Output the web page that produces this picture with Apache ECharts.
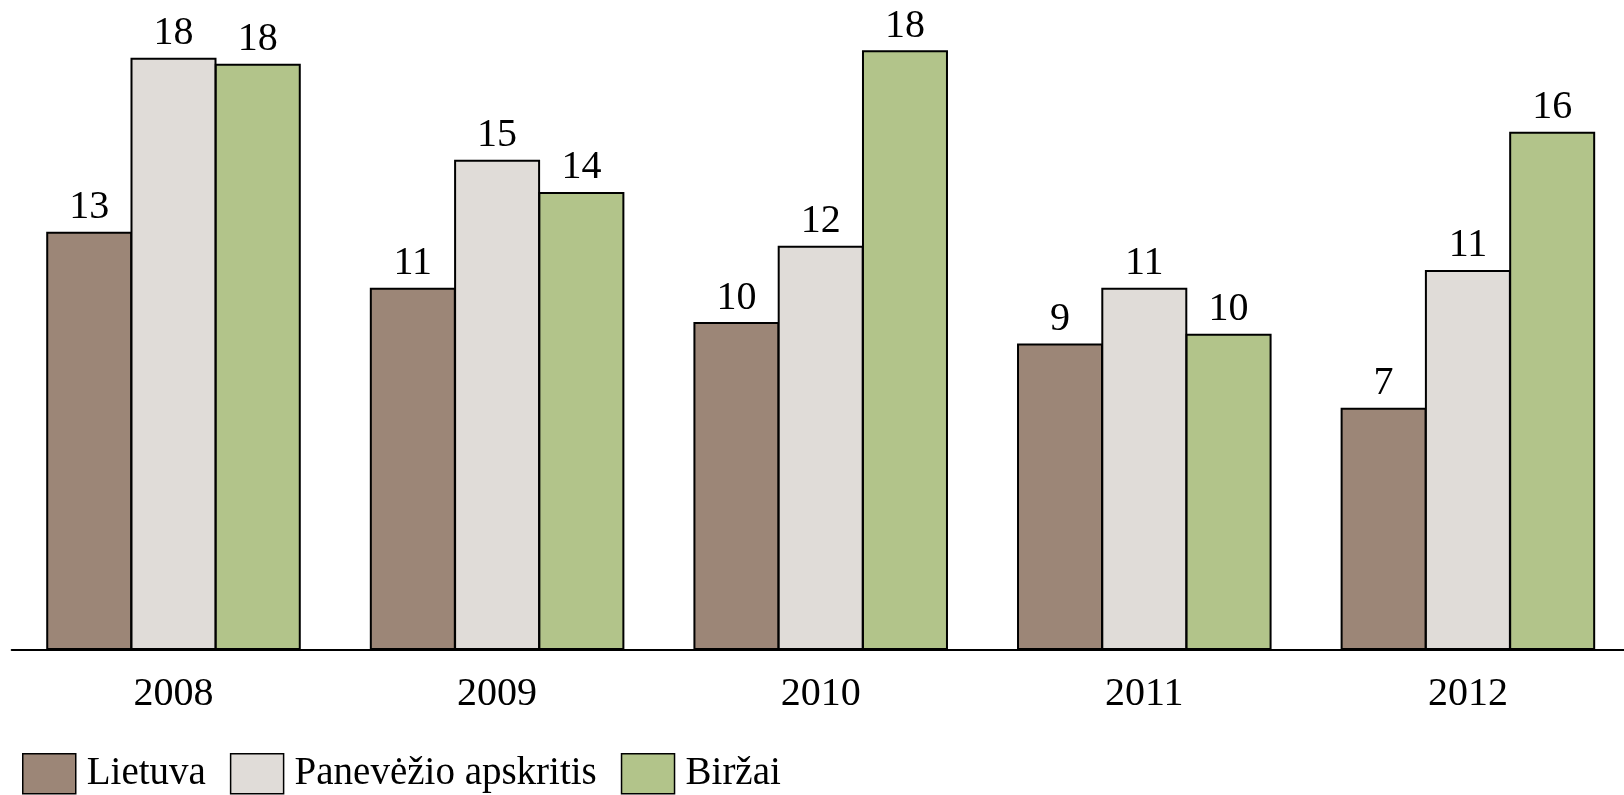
<!DOCTYPE html>
<html>
<head>
<meta charset="utf-8">
<script src="https://cdn.jsdelivr.net/npm/echarts@6/dist/echarts.min.js"></script>
<style>
html,body{margin:0;padding:0;background:#fff;}
#c{width:1624px;height:795px;}
</style>
</head>
<body>
<div id="c"></div>
<script>
const categories = ['2008', '2009', '2010', '2011', '2012'];
const seriesNames = ['Lietuva', 'Panevėžio apskritis', 'Biržai'];
const lietuva = [12.6, 10.91, 9.88, 9.23, 7.30];
const panevezys = [17.84, 14.77, 12.18, 10.91, 11.45];
const birzai = [17.66, 13.80, 18.07, 9.53, 15.61];
const colors = ['#9c8677', '#e0dcd8', '#b2c48a'];

const font = '"Liberation Serif", "DejaVu Serif", serif';
const chart = echarts.init(document.getElementById('c'));
const mk = (name, data, color) => ({
  name: name,
  type: 'bar',
  data: data,
  barWidth: 86,
  barGap: '-2%',
  itemStyle: { color: color, borderColor: '#000', borderWidth: 2 },
  label: {
    show: true,
    position: 'top',
    distance: 4,
    color: '#000',
    fontFamily: font,
    fontSize: 40,
    formatter: p => Math.round(p.value)
  }
});
chart.setOption({
  animation: false,
  grid: { left: 11.7, top: 0, width: 1618, height: 650, containLabel: false, outerBoundsMode: 'none' },
  xAxis: {
    type: 'category',
    data: categories,
    axisLine: { lineStyle: { color: '#000', width: 2 } },
    axisTick: { show: false },
    axisLabel: { color: '#000', fontFamily: font, fontSize: 40, margin: 24 }
  },
  yAxis: {
    type: 'value',
    min: 0,
    max: 19.58,
    show: false,
    splitLine: { show: false }
  },
  legend: {
    left: 22,
    top: 753,
    padding: 0,
    itemWidth: 53,
    itemHeight: 40,
    itemGap: 24,
    icon: 'rect',
    itemStyle: { borderColor: '#000', borderWidth: 1.5 },
    textStyle: { color: '#000', fontFamily: font, fontSize: 39, padding: [0, 0, 0, 6] },
    data: seriesNames
  },
  series: [
    mk(seriesNames[0], lietuva, colors[0]),
    mk(seriesNames[1], panevezys, colors[1]),
    mk(seriesNames[2], birzai, colors[2])
  ]
});
</script>
</body>
</html>
